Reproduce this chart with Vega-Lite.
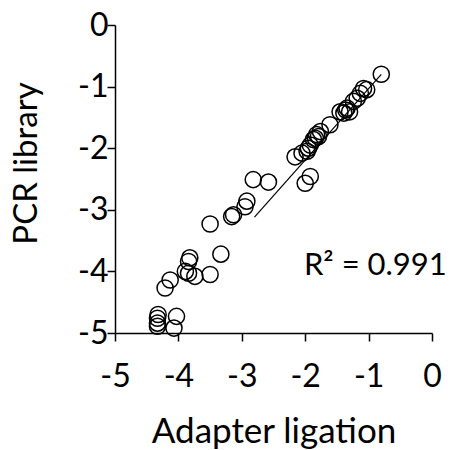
{
  "$schema": "https://vega.github.io/schema/vega-lite/v6.json",
  "autosize": "none",
  "width": 317,
  "height": 308,
  "padding": {"left": 115, "top": 25, "right": 20, "bottom": 117},
  "background": "white",
  "config": {
    "view": {"stroke": null},
    "font": "Lato",
    "axis": {
      "grid": false,
      "domainColor": "black",
      "domainWidth": 1.5,
      "tickColor": "black",
      "tickWidth": 1.5,
      "tickSize": 8,
      "labelFont": "Lato",
      "labelFontSize": 32,
      "labelColor": "black",
      "labelOverlap": false,
      "labelFlush": false,
      "labelExpr": "datum.value == 0 ? '0' : '-' + abs(datum.value)",
      "titleFont": "Lato",
      "titleFontSize": 33,
      "titleFontWeight": "normal",
      "titleColor": "black"
    }
  },
  "datasets": {
    "pts": [
      {"x": -0.8, "y": -0.8},
      {"x": -1.08, "y": -1.03},
      {"x": -1.03, "y": -1.05},
      {"x": -1.13, "y": -1.11},
      {"x": -1.18, "y": -1.19},
      {"x": -1.24, "y": -1.24},
      {"x": -1.34, "y": -1.35},
      {"x": -1.36, "y": -1.38},
      {"x": -1.3, "y": -1.41},
      {"x": -1.39, "y": -1.43},
      {"x": -1.45, "y": -1.41},
      {"x": -1.61, "y": -1.62},
      {"x": -1.76, "y": -1.73},
      {"x": -1.82, "y": -1.78},
      {"x": -1.84, "y": -1.84},
      {"x": -1.79, "y": -1.81},
      {"x": -1.87, "y": -1.86},
      {"x": -1.92, "y": -1.95},
      {"x": -1.95, "y": -2.0},
      {"x": -2.05, "y": -2.08},
      {"x": -2.16, "y": -2.14},
      {"x": -1.97, "y": -2.05},
      {"x": -1.92, "y": -2.46},
      {"x": -2.0, "y": -2.57},
      {"x": -2.82, "y": -2.51},
      {"x": -2.58, "y": -2.55},
      {"x": -2.92, "y": -2.86},
      {"x": -2.95, "y": -2.95},
      {"x": -3.13, "y": -3.08},
      {"x": -3.16, "y": -3.11},
      {"x": -3.5, "y": -3.23},
      {"x": -3.33, "y": -3.72},
      {"x": -3.82, "y": -3.78},
      {"x": -3.84, "y": -3.84},
      {"x": -3.89, "y": -4.0},
      {"x": -3.84, "y": -4.03},
      {"x": -3.74, "y": -4.08},
      {"x": -3.5, "y": -4.05},
      {"x": -4.13, "y": -4.14},
      {"x": -4.21, "y": -4.27},
      {"x": -4.32, "y": -4.7},
      {"x": -4.33, "y": -4.76},
      {"x": -4.33, "y": -4.84},
      {"x": -4.33, "y": -4.89},
      {"x": -4.03, "y": -4.73},
      {"x": -4.07, "y": -4.92}
    ],
    "fit": [
      {"x": -2.8, "y": -3.12},
      {"x": -0.8, "y": -0.8}
    ],
    "label": [
      {"x": -2.02, "y": -4.054, "text": "R² = 0.991"}
    ]
  },
  "layer": [
    {
      "data": {"name": "fit"},
      "mark": {"type": "line", "color": "black", "strokeWidth": 1.2},
      "encoding": {
        "x": {"field": "x", "type": "quantitative", "scale": {"domain": [-5, 0], "nice": false}, "axis": {"values": [-5, -4, -3, -2, -1, 0], "title": "Adapter ligation", "labelPadding": 20, "titlePadding": 22, "titleFontSize": 35}},
        "y": {"field": "y", "type": "quantitative", "scale": {"domain": [-5, 0], "nice": false}, "axis": {"values": [-5, -4, -3, -2, -1, 0], "title": "PCR library", "labelPadding": -1, "titlePadding": 34, "titleY": 138}}
      }
    },
    {
      "data": {"name": "pts"},
      "mark": {"type": "point", "shape": "circle", "filled": false, "color": "black", "strokeWidth": 1.5, "size": 260, "opacity": 1},
      "encoding": {
        "x": {"field": "x", "type": "quantitative"},
        "y": {"field": "y", "type": "quantitative"}
      }
    },
    {
      "data": {"name": "label"},
      "mark": {"type": "text", "align": "left", "baseline": "alphabetic", "fontSize": 31, "font": "Lato", "color": "black"},
      "encoding": {
        "x": {"field": "x", "type": "quantitative"},
        "y": {"field": "y", "type": "quantitative"},
        "text": {"field": "text"}
      }
    }
  ]
}
